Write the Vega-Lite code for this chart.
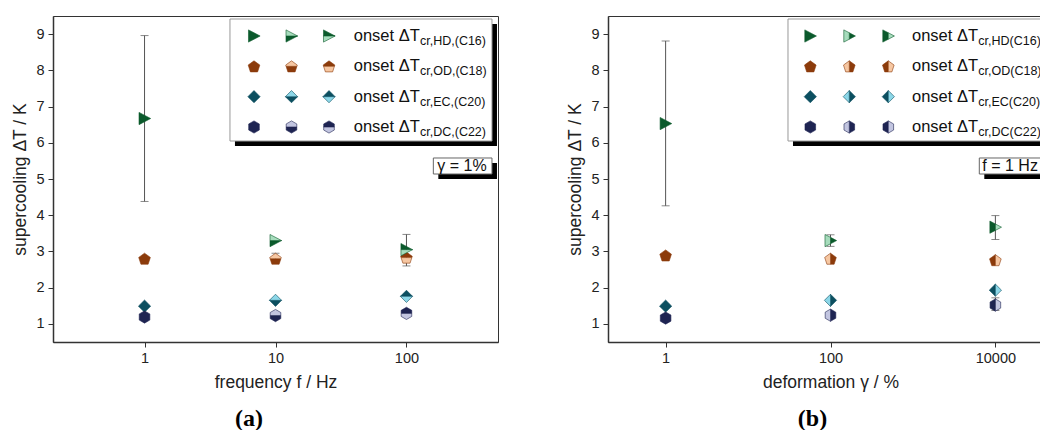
{
"$schema": "https://vega.github.io/schema/vega-lite/v6.json",
"background": "white",
"padding": {"left": 11, "top": 15, "right": 0, "bottom": 0},
"spacing": 67,
"datasets": {
"pa": [
{"x":1,"series":"HD","y":6.67},{"x":1,"series":"OD","y":2.8},{"x":1,"series":"EC","y":1.49},{"x":1,"series":"DC","y":1.19},
{"x":10,"series":"HD","y":3.3},{"x":10,"series":"OD","y":2.8},{"x":10,"series":"EC","y":1.65},{"x":10,"series":"DC","y":1.23},
{"x":100,"series":"HD","y":3.05},{"x":100,"series":"OD","y":2.83},{"x":100,"series":"EC","y":1.76},{"x":100,"series":"DC","y":1.29}
],
"ea": [{"x":1,"lo":4.38,"hi":8.96},{"x":10,"lo":2.7,"hi":2.95},{"x":100,"lo":2.6,"hi":3.47}],
"pb": [
{"x":1,"series":"HD","y":6.53},{"x":1,"series":"OD","y":2.89},{"x":1,"series":"EC","y":1.49},{"x":1,"series":"DC","y":1.16},
{"x":100,"series":"HD","y":3.3},{"x":100,"series":"OD","y":2.8},{"x":100,"series":"EC","y":1.65},{"x":100,"series":"DC","y":1.24},
{"x":10000,"series":"HD","y":3.67},{"x":10000,"series":"OD","y":2.76},{"x":10000,"series":"EC","y":1.93},{"x":10000,"series":"DC","y":1.52}
],
"eb": [{"x":1,"lo":4.26,"hi":8.81},{"x":100,"lo":3.14,"hi":3.46},{"x":10000,"lo":3.33,"hi":3.99},{"x":10000,"lo":1.37,"hi":1.72}],
"la": [
{"series":"HD","label":"onset ΔT","sub":"cr,HD,(C16)"},
{"series":"OD","label":"onset ΔT","sub":"cr,OD,(C18)"},
{"series":"EC","label":"onset ΔT","sub":"cr,EC,(C20)"},
{"series":"DC","label":"onset ΔT","sub":"cr,DC,(C22)"}
],
"lb": [
{"series":"HD","label":"onset ΔT","sub":"cr,HD(C16)"},
{"series":"OD","label":"onset ΔT","sub":"cr,OD(C18)"},
{"series":"EC","label":"onset ΔT","sub":"cr,EC(C20)"},
{"series":"DC","label":"onset ΔT","sub":"cr,DC(C22)"}
]
},
"hconcat": [
{
"width": 445, "height": 326,
"title": {"text": "(a)", "orient": "bottom", "anchor": "middle", "frame": "bounds", "font": "Liberation Serif", "fontSize": 24, "fontWeight": "bold", "color": "#000", "offset": 16, "dx": -6},
"resolve": {"scale": {"x": "independent", "y": "independent", "shape": "independent", "fill": "independent", "stroke": "independent"}},
"layer": [
{"data":{"values":[{}]},"mark":{"type":"rect","fill":"#000","xOffset":5,"x2Offset":5,"yOffset":5,"y2Offset":5},
 "encoding":{"x":{"datum":4.49,"type":"quantitative","scale":{"type":"log","domain":[0.2,500],"nice":false},"axis":null},"x2":{"datum":449.8},
 "y":{"datum":9.417,"type":"quantitative","scale":{"domain":[0.5,9.5],"nice":false,"zero":false},"axis":null},"y2":{"datum":6.049}}},
{"data":{"values":[{}]},"mark":{"type":"rect","fill":"#fff","stroke":"#999","strokeWidth":1},
 "encoding":{"x":{"datum":4.49,"type":"quantitative","scale":{"type":"log","domain":[0.2,500],"nice":false},"axis":null},"x2":{"datum":449.8},
 "y":{"datum":9.417,"type":"quantitative","scale":{"domain":[0.5,9.5],"nice":false,"zero":false},"axis":null},"y2":{"datum":6.049}}},
{"data":{"values":[{}]},"mark":{"type":"rect","fill":"#000","xOffset":5,"x2Offset":5,"yOffset":5,"y2Offset":5},
 "encoding":{"x":{"datum":160.4,"type":"quantitative","scale":{"type":"log","domain":[0.2,500],"nice":false},"axis":null},"x2":{"datum":449.8},
 "y":{"datum":5.58,"type":"quantitative","scale":{"domain":[0.5,9.5],"nice":false,"zero":false},"axis":null},"y2":{"datum":5.138}}},
{"data":{"values":[{}]},"mark":{"type":"rect","fill":"#fff","stroke":"#666","strokeWidth":1},
 "encoding":{"x":{"datum":160.4,"type":"quantitative","scale":{"type":"log","domain":[0.2,500],"nice":false},"axis":null},"x2":{"datum":449.8},
 "y":{"datum":5.58,"type":"quantitative","scale":{"domain":[0.5,9.5],"nice":false,"zero":false},"axis":null},"y2":{"datum":5.138}}},
{"data":{"values":[{}]},"mark":{"type":"text","text":"γ = 1%","fontSize":16,"align":"center","baseline":"middle","color":"#111"},
 "encoding":{"x":{"datum":265.5,"type":"quantitative","scale":{"type":"log","domain":[0.2,500],"nice":false},"axis":null},
 "y":{"datum":5.36,"type":"quantitative","scale":{"domain":[0.5,9.5],"nice":false,"zero":false},"axis":null}}},
{"data":{"name":"ea"},"mark":{"type":"errorbar","ticks":true,"size":8,"thickness":1,"color":"#555"},
 "encoding":{"x":{"field":"x","type":"quantitative","scale":{"type":"log","domain":[0.2,500],"nice":false},"axis":{"title":"frequency f / Hz","values":[1,10,100],"format":"d"}},
 "y":{"field":"lo","type":"quantitative","scale":{"domain":[0.5,9.5],"nice":false,"zero":false},"axis":{"title":"supercooling ΔT / K","values":[1,1.5,2,2.5,3,3.5,4,4.5,5,5.5,6,6.5,7,7.5,8,8.5,9],"format":"d","labelExpr":"datum.value % 1 === 0 ? datum.label : ''","tickSize":{"condition":{"test":"datum.value % 1 === 0","value":5},"value":3}}},
 "y2":{"field":"hi"}}},
{"data":{"name":"pa"},"transform":[{"filter":"datum.x === 1"}],"mark":{"type":"point","filled":true,"size":150,"strokeWidth":0.6,"opacity":1},
 "encoding":{"x":{"field":"x","type":"quantitative","scale":{"type":"log","domain":[0.2,500],"nice":false},"axis":null},
 "y":{"field":"y","type":"quantitative","scale":{"domain":[0.5,9.5],"nice":false,"zero":false},"axis":null},
 "shape":{"field":"series","type":"nominal","scale":{"domain":["HD","OD","EC","DC"],"range":["M-0.9,-1L1,0L-0.9,1Z","M0,-0.9L0.951,-0.209L0.588,0.909L-0.588,0.909L-0.951,-0.209Z","M0,-1L1,0L0,1L-1,0Z","M0,-1L0.866,-0.5L0.866,0.5L0,1L-0.866,0.5L-0.866,-0.5Z"]},"legend":null},
 "fill":{"field":"series","type":"nominal","scale":{"domain":["HD","OD","EC","DC"],"range":["#0b5a2c","#8c3b0b","#0c4f60","#1e2452"]},"legend":null},
 "stroke":{"field":"series","type":"nominal","scale":{"domain":["HD","OD","EC","DC"],"range":["#0b5a2c","#8c3b0b","#0c4f60","#1e2452"]},"legend":null}}},
{"data":{"name":"pa"},"transform":[{"filter":"datum.x === 10"}],"mark":{"type":"point","filled":true,"size":150,"strokeWidth":0.6,"opacity":1},
 "encoding":{"x":{"field":"x","type":"quantitative","scale":{"type":"log","domain":[0.2,500],"nice":false},"axis":null},
 "y":{"field":"y","type":"quantitative","scale":{"domain":[0.5,9.5],"nice":false,"zero":false},"axis":null},
 "shape":{"field":"series","type":"nominal","scale":{"domain":["HD","OD","EC","DC"],"range":["M-0.9,0L1,0L-0.9,1Z","M-0.883,0L0.883,0L0.588,0.909L-0.588,0.909Z","M-1,0L1,0L0,1Z","M-0.866,0L0.866,0L0.866,0.5L0,1L-0.866,0.5Z"]},"legend":null},
 "fill":{"field":"series","type":"nominal","scale":{"domain":["HD","OD","EC","DC"],"range":["#0b5a2c","#8c3b0b","#0c4f60","#1e2452"]},"legend":null},
 "stroke":{"field":"series","type":"nominal","scale":{"domain":["HD","OD","EC","DC"],"range":["#0b5a2c","#8c3b0b","#0c4f60","#1e2452"]},"legend":null}}},
{"data":{"name":"pa"},"transform":[{"filter":"datum.x === 10"}],"mark":{"type":"point","filled":true,"size":150,"strokeWidth":0.6,"opacity":1},
 "encoding":{"x":{"field":"x","type":"quantitative","scale":{"type":"log","domain":[0.2,500],"nice":false},"axis":null},
 "y":{"field":"y","type":"quantitative","scale":{"domain":[0.5,9.5],"nice":false,"zero":false},"axis":null},
 "shape":{"field":"series","type":"nominal","scale":{"domain":["HD","OD","EC","DC"],"range":["M-0.9,-1L1,0L-0.9,0Z","M0,-0.9L0.951,-0.209L0.883,0L-0.883,0L-0.951,-0.209Z","M0,-1L1,0L-1,0Z","M0,-1L0.866,-0.5L0.866,0L-0.866,0L-0.866,-0.5Z"]},"legend":null},
 "fill":{"field":"series","type":"nominal","scale":{"domain":["HD","OD","EC","DC"],"range":["#a6dcbc","#f6c7a2","#8cd7e8","#c2c5e0"]},"legend":null},
 "stroke":{"field":"series","type":"nominal","scale":{"domain":["HD","OD","EC","DC"],"range":["#0b5a2c","#8c3b0b","#0c4f60","#1e2452"]},"legend":null}}},
{"data":{"name":"pa"},"transform":[{"filter":"datum.x === 100"}],"mark":{"type":"point","filled":true,"size":150,"strokeWidth":0.6,"opacity":1},
 "encoding":{"x":{"field":"x","type":"quantitative","scale":{"type":"log","domain":[0.2,500],"nice":false},"axis":null},
 "y":{"field":"y","type":"quantitative","scale":{"domain":[0.5,9.5],"nice":false,"zero":false},"axis":null},
 "shape":{"field":"series","type":"nominal","scale":{"domain":["HD","OD","EC","DC"],"range":["M-0.9,-1L1,0L-0.9,0Z","M0,-0.9L0.951,-0.209L0.883,0L-0.883,0L-0.951,-0.209Z","M0,-1L1,0L-1,0Z","M0,-1L0.866,-0.5L0.866,0L-0.866,0L-0.866,-0.5Z"]},"legend":null},
 "fill":{"field":"series","type":"nominal","scale":{"domain":["HD","OD","EC","DC"],"range":["#0b5a2c","#8c3b0b","#0c4f60","#1e2452"]},"legend":null},
 "stroke":{"field":"series","type":"nominal","scale":{"domain":["HD","OD","EC","DC"],"range":["#0b5a2c","#8c3b0b","#0c4f60","#1e2452"]},"legend":null}}},
{"data":{"name":"pa"},"transform":[{"filter":"datum.x === 100"}],"mark":{"type":"point","filled":true,"size":150,"strokeWidth":0.6,"opacity":1},
 "encoding":{"x":{"field":"x","type":"quantitative","scale":{"type":"log","domain":[0.2,500],"nice":false},"axis":null},
 "y":{"field":"y","type":"quantitative","scale":{"domain":[0.5,9.5],"nice":false,"zero":false},"axis":null},
 "shape":{"field":"series","type":"nominal","scale":{"domain":["HD","OD","EC","DC"],"range":["M-0.9,0L1,0L-0.9,1Z","M-0.883,0L0.883,0L0.588,0.909L-0.588,0.909Z","M-1,0L1,0L0,1Z","M-0.866,0L0.866,0L0.866,0.5L0,1L-0.866,0.5Z"]},"legend":null},
 "fill":{"field":"series","type":"nominal","scale":{"domain":["HD","OD","EC","DC"],"range":["#a6dcbc","#f6c7a2","#8cd7e8","#c2c5e0"]},"legend":null},
 "stroke":{"field":"series","type":"nominal","scale":{"domain":["HD","OD","EC","DC"],"range":["#0b5a2c","#8c3b0b","#0c4f60","#1e2452"]},"legend":null}}},
{"data":{"name":"pa"},"transform":[{"filter":"datum.x === 1"}],"mark":{"type":"point","filled":true,"size":150,"strokeWidth":0.6,"opacity":1},
 "encoding":{"x":{"field":"x","type":"quantitative","scale":{"type":"log","domain":[1,100],"range":[201,276]},"axis":null},
 "y":{"field":"series","type":"nominal","scale":{"type":"point","domain":["HD","OD","EC","DC"],"range":[20,111],"padding":0},"axis":null},
 "shape":{"field":"series","type":"nominal","scale":{"domain":["HD","OD","EC","DC"],"range":["M-0.9,-1L1,0L-0.9,1Z","M0,-0.9L0.951,-0.209L0.588,0.909L-0.588,0.909L-0.951,-0.209Z","M0,-1L1,0L0,1L-1,0Z","M0,-1L0.866,-0.5L0.866,0.5L0,1L-0.866,0.5L-0.866,-0.5Z"]},"legend":null},
 "fill":{"field":"series","type":"nominal","scale":{"domain":["HD","OD","EC","DC"],"range":["#0b5a2c","#8c3b0b","#0c4f60","#1e2452"]},"legend":null},
 "stroke":{"field":"series","type":"nominal","scale":{"domain":["HD","OD","EC","DC"],"range":["#0b5a2c","#8c3b0b","#0c4f60","#1e2452"]},"legend":null}}},
{"data":{"name":"pa"},"transform":[{"filter":"datum.x === 10"}],"mark":{"type":"point","filled":true,"size":150,"strokeWidth":0.6,"opacity":1},
 "encoding":{"x":{"field":"x","type":"quantitative","scale":{"type":"log","domain":[1,100],"range":[201,276]},"axis":null},
 "y":{"field":"series","type":"nominal","scale":{"type":"point","domain":["HD","OD","EC","DC"],"range":[20,111],"padding":0},"axis":null},
 "shape":{"field":"series","type":"nominal","scale":{"domain":["HD","OD","EC","DC"],"range":["M-0.9,0L1,0L-0.9,1Z","M-0.883,0L0.883,0L0.588,0.909L-0.588,0.909Z","M-1,0L1,0L0,1Z","M-0.866,0L0.866,0L0.866,0.5L0,1L-0.866,0.5Z"]},"legend":null},
 "fill":{"field":"series","type":"nominal","scale":{"domain":["HD","OD","EC","DC"],"range":["#0b5a2c","#8c3b0b","#0c4f60","#1e2452"]},"legend":null},
 "stroke":{"field":"series","type":"nominal","scale":{"domain":["HD","OD","EC","DC"],"range":["#0b5a2c","#8c3b0b","#0c4f60","#1e2452"]},"legend":null}}},
{"data":{"name":"pa"},"transform":[{"filter":"datum.x === 10"}],"mark":{"type":"point","filled":true,"size":150,"strokeWidth":0.6,"opacity":1},
 "encoding":{"x":{"field":"x","type":"quantitative","scale":{"type":"log","domain":[1,100],"range":[201,276]},"axis":null},
 "y":{"field":"series","type":"nominal","scale":{"type":"point","domain":["HD","OD","EC","DC"],"range":[20,111],"padding":0},"axis":null},
 "shape":{"field":"series","type":"nominal","scale":{"domain":["HD","OD","EC","DC"],"range":["M-0.9,-1L1,0L-0.9,0Z","M0,-0.9L0.951,-0.209L0.883,0L-0.883,0L-0.951,-0.209Z","M0,-1L1,0L-1,0Z","M0,-1L0.866,-0.5L0.866,0L-0.866,0L-0.866,-0.5Z"]},"legend":null},
 "fill":{"field":"series","type":"nominal","scale":{"domain":["HD","OD","EC","DC"],"range":["#a6dcbc","#f6c7a2","#8cd7e8","#c2c5e0"]},"legend":null},
 "stroke":{"field":"series","type":"nominal","scale":{"domain":["HD","OD","EC","DC"],"range":["#0b5a2c","#8c3b0b","#0c4f60","#1e2452"]},"legend":null}}},
{"data":{"name":"pa"},"transform":[{"filter":"datum.x === 100"}],"mark":{"type":"point","filled":true,"size":150,"strokeWidth":0.6,"opacity":1},
 "encoding":{"x":{"field":"x","type":"quantitative","scale":{"type":"log","domain":[1,100],"range":[201,276]},"axis":null},
 "y":{"field":"series","type":"nominal","scale":{"type":"point","domain":["HD","OD","EC","DC"],"range":[20,111],"padding":0},"axis":null},
 "shape":{"field":"series","type":"nominal","scale":{"domain":["HD","OD","EC","DC"],"range":["M-0.9,-1L1,0L-0.9,0Z","M0,-0.9L0.951,-0.209L0.883,0L-0.883,0L-0.951,-0.209Z","M0,-1L1,0L-1,0Z","M0,-1L0.866,-0.5L0.866,0L-0.866,0L-0.866,-0.5Z"]},"legend":null},
 "fill":{"field":"series","type":"nominal","scale":{"domain":["HD","OD","EC","DC"],"range":["#0b5a2c","#8c3b0b","#0c4f60","#1e2452"]},"legend":null},
 "stroke":{"field":"series","type":"nominal","scale":{"domain":["HD","OD","EC","DC"],"range":["#0b5a2c","#8c3b0b","#0c4f60","#1e2452"]},"legend":null}}},
{"data":{"name":"pa"},"transform":[{"filter":"datum.x === 100"}],"mark":{"type":"point","filled":true,"size":150,"strokeWidth":0.6,"opacity":1},
 "encoding":{"x":{"field":"x","type":"quantitative","scale":{"type":"log","domain":[1,100],"range":[201,276]},"axis":null},
 "y":{"field":"series","type":"nominal","scale":{"type":"point","domain":["HD","OD","EC","DC"],"range":[20,111],"padding":0},"axis":null},
 "shape":{"field":"series","type":"nominal","scale":{"domain":["HD","OD","EC","DC"],"range":["M-0.9,0L1,0L-0.9,1Z","M-0.883,0L0.883,0L0.588,0.909L-0.588,0.909Z","M-1,0L1,0L0,1Z","M-0.866,0L0.866,0L0.866,0.5L0,1L-0.866,0.5Z"]},"legend":null},
 "fill":{"field":"series","type":"nominal","scale":{"domain":["HD","OD","EC","DC"],"range":["#a6dcbc","#f6c7a2","#8cd7e8","#c2c5e0"]},"legend":null},
 "stroke":{"field":"series","type":"nominal","scale":{"domain":["HD","OD","EC","DC"],"range":["#0b5a2c","#8c3b0b","#0c4f60","#1e2452"]},"legend":null}}},
{"data":{"name":"la"},"mark":{"type":"text","align":"left","baseline":"middle","fontSize":16.5,"dx":24.7,"color":"#111"},
 "encoding":{"x":{"datum":100,"type":"quantitative","scale":{"type":"log","domain":[1,100],"range":[201,276]},"axis":null},
 "y":{"field":"series","type":"nominal","scale":{"type":"point","domain":["HD","OD","EC","DC"],"range":[20,111],"padding":0},"axis":null},
 "text":{"field":"label"}}},
{"data":{"name":"la"},"mark":{"type":"text","align":"left","baseline":"middle","fontSize":12.5,"dx":91,"dy":5,"color":"#111"},
 "encoding":{"x":{"datum":100,"type":"quantitative","scale":{"type":"log","domain":[1,100],"range":[201,276]},"axis":null},
 "y":{"field":"series","type":"nominal","scale":{"type":"point","domain":["HD","OD","EC","DC"],"range":[20,111],"padding":0},"axis":null},
 "text":{"field":"sub"}}}
]
},
{
"width": 445, "height": 326,
"title": {"text": "(b)", "orient": "bottom", "anchor": "middle", "frame": "bounds", "font": "Liberation Serif", "fontSize": 24, "fontWeight": "bold", "color": "#000", "offset": 16},
"resolve": {"scale": {"x": "independent", "y": "independent", "shape": "independent", "fill": "independent", "stroke": "independent"}},
"layer": [
{"data":{"values":[{}]},"mark":{"type":"rect","fill":"#000","xOffset":5,"x2Offset":5,"yOffset":5,"y2Offset":5},
 "encoding":{"x":{"datum":30.5,"type":"quantitative","scale":{"type":"log","domain":[0.2,50000],"nice":false},"axis":null},"x2":{"datum":50000},
 "y":{"datum":9.417,"type":"quantitative","scale":{"domain":[0.5,9.5],"nice":false,"zero":false},"axis":null},"y2":{"datum":6.049}}},
{"data":{"values":[{}]},"mark":{"type":"rect","fill":"#fff","stroke":"#999","strokeWidth":1},
 "encoding":{"x":{"datum":30.5,"type":"quantitative","scale":{"type":"log","domain":[0.2,50000],"nice":false},"axis":null},"x2":{"datum":50000},
 "y":{"datum":9.417,"type":"quantitative","scale":{"domain":[0.5,9.5],"nice":false,"zero":false},"axis":null},"y2":{"datum":6.049}}},
{"data":{"values":[{}]},"mark":{"type":"rect","fill":"#000","xOffset":5,"x2Offset":5,"yOffset":5,"y2Offset":5},
 "encoding":{"x":{"datum":6383,"type":"quantitative","scale":{"type":"log","domain":[0.2,50000],"nice":false},"axis":null},"x2":{"datum":50000},
 "y":{"datum":5.58,"type":"quantitative","scale":{"domain":[0.5,9.5],"nice":false,"zero":false},"axis":null},"y2":{"datum":5.138}}},
{"data":{"values":[{}]},"mark":{"type":"rect","fill":"#fff","stroke":"#666","strokeWidth":1},
 "encoding":{"x":{"datum":6383,"type":"quantitative","scale":{"type":"log","domain":[0.2,50000],"nice":false},"axis":null},"x2":{"datum":50000},
 "y":{"datum":5.58,"type":"quantitative","scale":{"domain":[0.5,9.5],"nice":false,"zero":false},"axis":null},"y2":{"datum":5.138}}},
{"data":{"values":[{}]},"mark":{"type":"text","text":"f = 1 Hz","fontSize":16,"align":"left","baseline":"middle","dx":3,"color":"#111"},
 "encoding":{"x":{"datum":6383,"type":"quantitative","scale":{"type":"log","domain":[0.2,50000],"nice":false},"axis":null},
 "y":{"datum":5.36,"type":"quantitative","scale":{"domain":[0.5,9.5],"nice":false,"zero":false},"axis":null}}},
{"data":{"name":"eb"},"mark":{"type":"errorbar","ticks":true,"size":8,"thickness":1,"color":"#555"},
 "encoding":{"x":{"field":"x","type":"quantitative","scale":{"type":"log","domain":[0.2,50000],"nice":false},"axis":{"title":"deformation γ / %","values":[1,100,10000],"format":"d"}},
 "y":{"field":"lo","type":"quantitative","scale":{"domain":[0.5,9.5],"nice":false,"zero":false},"axis":{"title":"supercooling ΔT / K","values":[1,1.5,2,2.5,3,3.5,4,4.5,5,5.5,6,6.5,7,7.5,8,8.5,9],"format":"d","labelExpr":"datum.value % 1 === 0 ? datum.label : ''","tickSize":{"condition":{"test":"datum.value % 1 === 0","value":5},"value":3}}},
 "y2":{"field":"hi"}}},
{"data":{"name":"pb"},"transform":[{"filter":"datum.x === 1"}],"mark":{"type":"point","filled":true,"size":150,"strokeWidth":0.6,"opacity":1},
 "encoding":{"x":{"field":"x","type":"quantitative","scale":{"type":"log","domain":[0.2,50000],"nice":false},"axis":null},
 "y":{"field":"y","type":"quantitative","scale":{"domain":[0.5,9.5],"nice":false,"zero":false},"axis":null},
 "shape":{"field":"series","type":"nominal","scale":{"domain":["HD","OD","EC","DC"],"range":["M-0.9,-1L1,0L-0.9,1Z","M0,-0.9L0.951,-0.209L0.588,0.909L-0.588,0.909L-0.951,-0.209Z","M0,-1L1,0L0,1L-1,0Z","M0,-1L0.866,-0.5L0.866,0.5L0,1L-0.866,0.5L-0.866,-0.5Z"]},"legend":null},
 "fill":{"field":"series","type":"nominal","scale":{"domain":["HD","OD","EC","DC"],"range":["#0b5a2c","#8c3b0b","#0c4f60","#1e2452"]},"legend":null},
 "stroke":{"field":"series","type":"nominal","scale":{"domain":["HD","OD","EC","DC"],"range":["#0b5a2c","#8c3b0b","#0c4f60","#1e2452"]},"legend":null}}},
{"data":{"name":"pb"},"transform":[{"filter":"datum.x === 100"}],"mark":{"type":"point","filled":true,"size":150,"strokeWidth":0.6,"opacity":1},
 "encoding":{"x":{"field":"x","type":"quantitative","scale":{"type":"log","domain":[0.2,50000],"nice":false},"axis":null},
 "y":{"field":"y","type":"quantitative","scale":{"domain":[0.5,9.5],"nice":false,"zero":false},"axis":null},
 "shape":{"field":"series","type":"nominal","scale":{"domain":["HD","OD","EC","DC"],"range":["M0,-0.526L1,0L0,0.526Z","M0,-0.9L0.951,-0.209L0.588,0.909L0,0.909Z","M0,-1L1,0L0,1Z","M0,-1L0.866,-0.5L0.866,0.5L0,1Z"]},"legend":null},
 "fill":{"field":"series","type":"nominal","scale":{"domain":["HD","OD","EC","DC"],"range":["#0b5a2c","#8c3b0b","#0c4f60","#1e2452"]},"legend":null},
 "stroke":{"field":"series","type":"nominal","scale":{"domain":["HD","OD","EC","DC"],"range":["#0b5a2c","#8c3b0b","#0c4f60","#1e2452"]},"legend":null}}},
{"data":{"name":"pb"},"transform":[{"filter":"datum.x === 100"}],"mark":{"type":"point","filled":true,"size":150,"strokeWidth":0.6,"opacity":1},
 "encoding":{"x":{"field":"x","type":"quantitative","scale":{"type":"log","domain":[0.2,50000],"nice":false},"axis":null},
 "y":{"field":"y","type":"quantitative","scale":{"domain":[0.5,9.5],"nice":false,"zero":false},"axis":null},
 "shape":{"field":"series","type":"nominal","scale":{"domain":["HD","OD","EC","DC"],"range":["M-0.9,-1L0,-0.526L0,0.526L-0.9,1Z","M0,-0.9L0,0.909L-0.588,0.909L-0.951,-0.209Z","M0,-1L0,1L-1,0Z","M0,-1L0,1L-0.866,0.5L-0.866,-0.5Z"]},"legend":null},
 "fill":{"field":"series","type":"nominal","scale":{"domain":["HD","OD","EC","DC"],"range":["#a6dcbc","#f6c7a2","#8cd7e8","#c2c5e0"]},"legend":null},
 "stroke":{"field":"series","type":"nominal","scale":{"domain":["HD","OD","EC","DC"],"range":["#0b5a2c","#8c3b0b","#0c4f60","#1e2452"]},"legend":null}}},
{"data":{"name":"pb"},"transform":[{"filter":"datum.x === 10000"}],"mark":{"type":"point","filled":true,"size":150,"strokeWidth":0.6,"opacity":1},
 "encoding":{"x":{"field":"x","type":"quantitative","scale":{"type":"log","domain":[0.2,50000],"nice":false},"axis":null},
 "y":{"field":"y","type":"quantitative","scale":{"domain":[0.5,9.5],"nice":false,"zero":false},"axis":null},
 "shape":{"field":"series","type":"nominal","scale":{"domain":["HD","OD","EC","DC"],"range":["M-0.9,-1L0,-0.526L0,0.526L-0.9,1Z","M0,-0.9L0,0.909L-0.588,0.909L-0.951,-0.209Z","M0,-1L0,1L-1,0Z","M0,-1L0,1L-0.866,0.5L-0.866,-0.5Z"]},"legend":null},
 "fill":{"field":"series","type":"nominal","scale":{"domain":["HD","OD","EC","DC"],"range":["#0b5a2c","#8c3b0b","#0c4f60","#1e2452"]},"legend":null},
 "stroke":{"field":"series","type":"nominal","scale":{"domain":["HD","OD","EC","DC"],"range":["#0b5a2c","#8c3b0b","#0c4f60","#1e2452"]},"legend":null}}},
{"data":{"name":"pb"},"transform":[{"filter":"datum.x === 10000"}],"mark":{"type":"point","filled":true,"size":150,"strokeWidth":0.6,"opacity":1},
 "encoding":{"x":{"field":"x","type":"quantitative","scale":{"type":"log","domain":[0.2,50000],"nice":false},"axis":null},
 "y":{"field":"y","type":"quantitative","scale":{"domain":[0.5,9.5],"nice":false,"zero":false},"axis":null},
 "shape":{"field":"series","type":"nominal","scale":{"domain":["HD","OD","EC","DC"],"range":["M0,-0.526L1,0L0,0.526Z","M0,-0.9L0.951,-0.209L0.588,0.909L0,0.909Z","M0,-1L1,0L0,1Z","M0,-1L0.866,-0.5L0.866,0.5L0,1Z"]},"legend":null},
 "fill":{"field":"series","type":"nominal","scale":{"domain":["HD","OD","EC","DC"],"range":["#a6dcbc","#f6c7a2","#8cd7e8","#c2c5e0"]},"legend":null},
 "stroke":{"field":"series","type":"nominal","scale":{"domain":["HD","OD","EC","DC"],"range":["#0b5a2c","#8c3b0b","#0c4f60","#1e2452"]},"legend":null}}},
{"data":{"name":"pb"},"transform":[{"filter":"datum.x === 1"}],"mark":{"type":"point","filled":true,"size":150,"strokeWidth":0.6,"opacity":1},
 "encoding":{"x":{"field":"x","type":"quantitative","scale":{"type":"log","domain":[1,10000],"range":[202.3,280.3]},"axis":null},
 "y":{"field":"series","type":"nominal","scale":{"type":"point","domain":["HD","OD","EC","DC"],"range":[20,111],"padding":0},"axis":null},
 "shape":{"field":"series","type":"nominal","scale":{"domain":["HD","OD","EC","DC"],"range":["M-0.9,-1L1,0L-0.9,1Z","M0,-0.9L0.951,-0.209L0.588,0.909L-0.588,0.909L-0.951,-0.209Z","M0,-1L1,0L0,1L-1,0Z","M0,-1L0.866,-0.5L0.866,0.5L0,1L-0.866,0.5L-0.866,-0.5Z"]},"legend":null},
 "fill":{"field":"series","type":"nominal","scale":{"domain":["HD","OD","EC","DC"],"range":["#0b5a2c","#8c3b0b","#0c4f60","#1e2452"]},"legend":null},
 "stroke":{"field":"series","type":"nominal","scale":{"domain":["HD","OD","EC","DC"],"range":["#0b5a2c","#8c3b0b","#0c4f60","#1e2452"]},"legend":null}}},
{"data":{"name":"pb"},"transform":[{"filter":"datum.x === 100"}],"mark":{"type":"point","filled":true,"size":150,"strokeWidth":0.6,"opacity":1},
 "encoding":{"x":{"field":"x","type":"quantitative","scale":{"type":"log","domain":[1,10000],"range":[202.3,280.3]},"axis":null},
 "y":{"field":"series","type":"nominal","scale":{"type":"point","domain":["HD","OD","EC","DC"],"range":[20,111],"padding":0},"axis":null},
 "shape":{"field":"series","type":"nominal","scale":{"domain":["HD","OD","EC","DC"],"range":["M0,-0.526L1,0L0,0.526Z","M0,-0.9L0.951,-0.209L0.588,0.909L0,0.909Z","M0,-1L1,0L0,1Z","M0,-1L0.866,-0.5L0.866,0.5L0,1Z"]},"legend":null},
 "fill":{"field":"series","type":"nominal","scale":{"domain":["HD","OD","EC","DC"],"range":["#0b5a2c","#8c3b0b","#0c4f60","#1e2452"]},"legend":null},
 "stroke":{"field":"series","type":"nominal","scale":{"domain":["HD","OD","EC","DC"],"range":["#0b5a2c","#8c3b0b","#0c4f60","#1e2452"]},"legend":null}}},
{"data":{"name":"pb"},"transform":[{"filter":"datum.x === 100"}],"mark":{"type":"point","filled":true,"size":150,"strokeWidth":0.6,"opacity":1},
 "encoding":{"x":{"field":"x","type":"quantitative","scale":{"type":"log","domain":[1,10000],"range":[202.3,280.3]},"axis":null},
 "y":{"field":"series","type":"nominal","scale":{"type":"point","domain":["HD","OD","EC","DC"],"range":[20,111],"padding":0},"axis":null},
 "shape":{"field":"series","type":"nominal","scale":{"domain":["HD","OD","EC","DC"],"range":["M-0.9,-1L0,-0.526L0,0.526L-0.9,1Z","M0,-0.9L0,0.909L-0.588,0.909L-0.951,-0.209Z","M0,-1L0,1L-1,0Z","M0,-1L0,1L-0.866,0.5L-0.866,-0.5Z"]},"legend":null},
 "fill":{"field":"series","type":"nominal","scale":{"domain":["HD","OD","EC","DC"],"range":["#a6dcbc","#f6c7a2","#8cd7e8","#c2c5e0"]},"legend":null},
 "stroke":{"field":"series","type":"nominal","scale":{"domain":["HD","OD","EC","DC"],"range":["#0b5a2c","#8c3b0b","#0c4f60","#1e2452"]},"legend":null}}},
{"data":{"name":"pb"},"transform":[{"filter":"datum.x === 10000"}],"mark":{"type":"point","filled":true,"size":150,"strokeWidth":0.6,"opacity":1},
 "encoding":{"x":{"field":"x","type":"quantitative","scale":{"type":"log","domain":[1,10000],"range":[202.3,280.3]},"axis":null},
 "y":{"field":"series","type":"nominal","scale":{"type":"point","domain":["HD","OD","EC","DC"],"range":[20,111],"padding":0},"axis":null},
 "shape":{"field":"series","type":"nominal","scale":{"domain":["HD","OD","EC","DC"],"range":["M-0.9,-1L0,-0.526L0,0.526L-0.9,1Z","M0,-0.9L0,0.909L-0.588,0.909L-0.951,-0.209Z","M0,-1L0,1L-1,0Z","M0,-1L0,1L-0.866,0.5L-0.866,-0.5Z"]},"legend":null},
 "fill":{"field":"series","type":"nominal","scale":{"domain":["HD","OD","EC","DC"],"range":["#0b5a2c","#8c3b0b","#0c4f60","#1e2452"]},"legend":null},
 "stroke":{"field":"series","type":"nominal","scale":{"domain":["HD","OD","EC","DC"],"range":["#0b5a2c","#8c3b0b","#0c4f60","#1e2452"]},"legend":null}}},
{"data":{"name":"pb"},"transform":[{"filter":"datum.x === 10000"}],"mark":{"type":"point","filled":true,"size":150,"strokeWidth":0.6,"opacity":1},
 "encoding":{"x":{"field":"x","type":"quantitative","scale":{"type":"log","domain":[1,10000],"range":[202.3,280.3]},"axis":null},
 "y":{"field":"series","type":"nominal","scale":{"type":"point","domain":["HD","OD","EC","DC"],"range":[20,111],"padding":0},"axis":null},
 "shape":{"field":"series","type":"nominal","scale":{"domain":["HD","OD","EC","DC"],"range":["M0,-0.526L1,0L0,0.526Z","M0,-0.9L0.951,-0.209L0.588,0.909L0,0.909Z","M0,-1L1,0L0,1Z","M0,-1L0.866,-0.5L0.866,0.5L0,1Z"]},"legend":null},
 "fill":{"field":"series","type":"nominal","scale":{"domain":["HD","OD","EC","DC"],"range":["#a6dcbc","#f6c7a2","#8cd7e8","#c2c5e0"]},"legend":null},
 "stroke":{"field":"series","type":"nominal","scale":{"domain":["HD","OD","EC","DC"],"range":["#0b5a2c","#8c3b0b","#0c4f60","#1e2452"]},"legend":null}}},
{"data":{"name":"lb"},"mark":{"type":"text","align":"left","baseline":"middle","fontSize":16.5,"dx":23.7,"color":"#111"},
 "encoding":{"x":{"datum":10000,"type":"quantitative","scale":{"type":"log","domain":[1,10000],"range":[202.3,280.3]},"axis":null},
 "y":{"field":"series","type":"nominal","scale":{"type":"point","domain":["HD","OD","EC","DC"],"range":[20,111],"padding":0},"axis":null},
 "text":{"field":"label"}}},
{"data":{"name":"lb"},"mark":{"type":"text","align":"left","baseline":"middle","fontSize":12.5,"dx":90,"dy":5,"color":"#111"},
 "encoding":{"x":{"datum":10000,"type":"quantitative","scale":{"type":"log","domain":[1,10000],"range":[202.3,280.3]},"axis":null},
 "y":{"field":"series","type":"nominal","scale":{"type":"point","domain":["HD","OD","EC","DC"],"range":[20,111],"padding":0},"axis":null},
 "text":{"field":"sub"}}}
]
}
],
"config": {
"font": "Liberation Sans",
"view": {"stroke": "#333", "strokeWidth": 1},
"axis": {"grid": false, "domainColor": "#333", "domainWidth": 1.5, "tickColor": "#333", "tickWidth": 1, "tickSize": 5, "labelColor": "#222", "titleColor": "#222", "labelFontSize": 14.5, "titleFontSize": 17.5, "titleFontWeight": "normal", "labelPadding": 4},
"axisX": {"titlePadding": 9},
"axisY": {"titlePadding": 6}
}
}
